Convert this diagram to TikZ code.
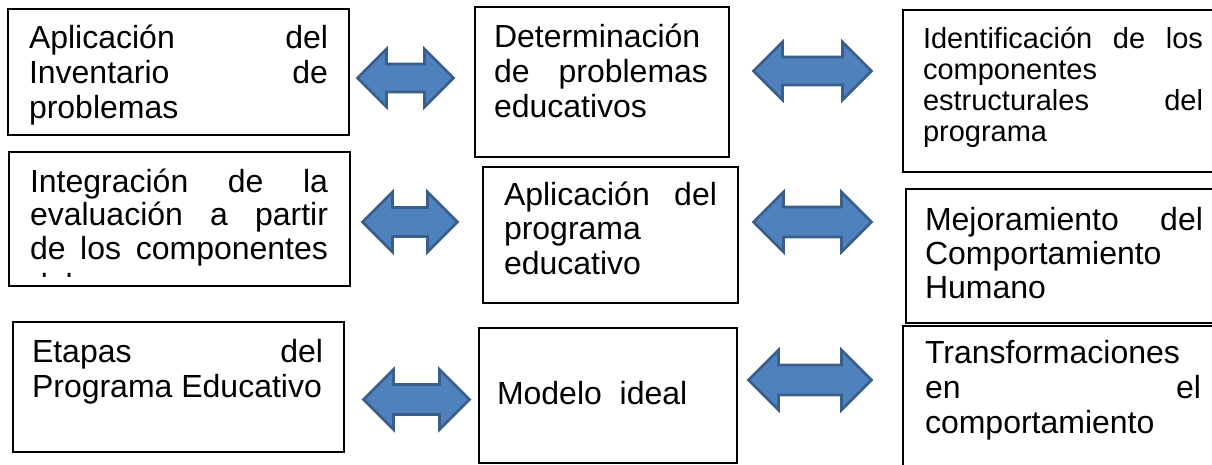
\documentclass[tikz,border=0pt]{standalone}
\usepackage{fontspec}
\setmainfont{Liberation Sans}
\newcommand{\jl}[2]{\makebox[#1pt][s]{#2}}
\newcommand{\txtlines}[2]{\vtop{\baselineskip=#1pt\relax\lineskiplimit=-50pt\relax #2}}
\definecolor{arrfill}{HTML}{4F81BD}
\definecolor{arrdraw}{HTML}{3A5F8C}
% centre x, centre y, half length, head length (= half head height), half shaft
\newcommand{\dblarrow}[5]{%
  \draw[arrstyle] ({#1-#3},#2) -- ({#1-#3+#4},{#2-#4}) -- ({#1-#3+#4},{#2-#5})
    -- ({#1+#3-#4},{#2-#5}) -- ({#1+#3-#4},{#2-#4}) -- ({#1+#3},#2)
    -- ({#1+#3-#4},{#2+#4}) -- ({#1+#3-#4},{#2+#5}) -- ({#1-#3+#4},{#2+#5})
    -- ({#1-#3+#4},{#2+#4}) -- cycle;}
\begin{document}
\begin{tikzpicture}[x=1pt,y=-1pt,
  box/.style={draw=black,line width=1.8pt,fill=white,anchor=north west,inner sep=0pt,outer sep=0pt},
  txt/.style={anchor=base west,inner sep=0pt,outer sep=0pt,font=\fontsize{32pt}{35pt}\selectfont},
  txts/.style={txt,font=\fontsize{29pt}{31pt}\selectfont},
  arrstyle/.style={fill=arrfill,draw=arrdraw,line width=2.6pt,line join=miter}]
\useasboundingbox (0,0) rectangle (1212,464);
\fill[white] (0,0) rectangle (1212,464);

% boxes
\node[box,minimum width=341pt,minimum height=126pt] (a1) at (8,9) {};
\node[box,minimum width=341pt,minimum height=134pt] (a2) at (9,152) {};
\node[box,minimum width=331pt,minimum height=130pt] (a3) at (13,322) {};
\node[box,minimum width=254pt,minimum height=150pt] (b1) at (475,7) {};
\node[box,minimum width=255pt,minimum height=136pt] (b2) at (483,167) {};
\node[box,minimum width=258pt,minimum height=135pt] (b3) at (479,328) {};
\node[box,minimum width=330pt,minimum height=162pt] (c1) at (903,10) {};
\node[box,minimum width=330pt,minimum height=134pt] (c2) at (906,189) {};
\node[box,minimum width=330pt,minimum height=160pt] (c3) at (903,326) {};

% texts
\node[txt] (a1t) at (29,48) {\txtlines{35}{\hbox{\jl{299}{Aplicación del}}\hbox{\jl{299}{Inventario de}}\hbox{problemas}}};
\node[txt] (a2t) at (30,192) {\txtlines{33.5}{\hbox{\jl{298}{Integración de la}}\hbox{\jl{298}{evaluación a partir}}\hbox{\jl{298}{de los componentes}}}};
\begin{scope}
\clip (9,152) rectangle (350,276);
\node[txt] (a2x) at (30,296) {del programa};
\end{scope}
\node[txt] (a3t) at (32,362) {\txtlines{35}{\hbox{\jl{291}{Etapas del}}\hbox{Programa Educativo}}};
\node[txt] (b1t) at (494,47) {\txtlines{35}{\hbox{Determinación}\hbox{\jl{214}{de problemas}}\hbox{educativos}}};
\node[txt] (b2t) at (504,205) {\txtlines{34.5}{\hbox{\jl{213}{Aplicación del}}\hbox{programa}\hbox{educativo}}};
\node[txt] (b3t) at (497,404) {Modelo\ \ ideal};
\node[txts] (c1t) at (923,48) {\txtlines{31}{\hbox{\jl{280}{Identificación de los}}\hbox{componentes}\hbox{\jl{280}{estructurales del}}\hbox{programa}}};
\node[txt] (c2t) at (925,230) {\txtlines{34}{\hbox{\jl{278}{Mejoramiento del}}\hbox{Comportamiento}\hbox{Humano}}};
\node[txt] (c3t) at (925,363) {\txtlines{35}{\hbox{Transformaciones}\hbox{\jl{276}{en el}}\hbox{comportamiento}}};

% double block arrows
\dblarrow{405.5}{78}{48}{29}{14}
\dblarrow{812.5}{71}{59}{29}{14}
\dblarrow{410}{222}{47.5}{30}{14.5}
\dblarrow{812.5}{222}{59}{30}{15}
\dblarrow{416.5}{399.5}{53}{30}{15}
\dblarrow{810}{380}{61.5}{30}{15}
\end{tikzpicture}
\end{document}
